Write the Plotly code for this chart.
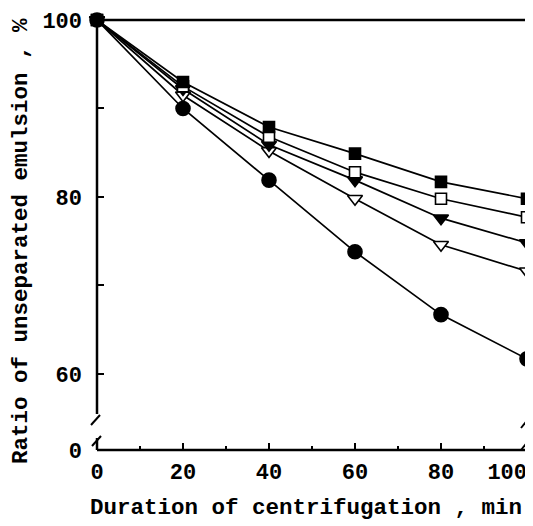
import plotly.graph_objects as go

# ---- data ----
time_min = [0, 20, 40, 60, 80, 100]
filled_square = [100, 93, 87.9, 84.9, 81.7, 79.8]
open_square = [100, 92.5, 86.8, 82.8, 79.8, 77.7]
filled_triangle = [100, 92.2, 85.9, 81.9, 77.6, 74.8]
open_triangle = [100, 91.5, 85.2, 79.8, 74.6, 71.6]
filled_circle = [100, 90, 81.9, 73.8, 66.7, 61.7]

y_tick_vals = [51.4, 60, 70, 80, 90, 100]
y_tick_text = ["0", "60", "", "80", "", "100"]
x_tick_vals = [0, 20, 40, 60, 80, 100]
x_tick_text = ["0", "20", "40", "60", "80", ""]
x_last_val = [100]
x_last_text = ["100"]
x_title = "Duration of centrifugation , min"
y_title = "Ratio of unseparated emulsion , %"

# page geometry (page has an 8px body margin)
OFF = 8
W, H = 533 - OFF, 526 - OFF
L, R, T, B = 97, 527, 20, 450          # plot frame in page pixels
FONT = dict(family="Liberation Mono", size=22, color="black", weight="bold")

fig = go.Figure()

def add(y, symbol, size, fill):
    fig.add_trace(go.Scatter(
        x=time_min, y=y, mode="lines+markers", cliponaxis=False,
        line=dict(color="black", width=1.7),
        marker=dict(symbol=symbol, size=size, color=fill,
                    line=dict(color="black", width=1.6)),
        showlegend=False))

add(filled_circle, "circle", 14, "black")
add(open_triangle, "triangle-down", 13, "white")
add(filled_triangle, "triangle-down", 13, "black")
add(open_square, "square", 11, "white")
add(filled_square, "square", 11, "black")

# invisible helper trace so the overlay axis (last tick label) is drawn
fig.add_trace(go.Scatter(x=time_min, y=filled_square, xaxis="x2",
                         mode="markers", marker=dict(opacity=0),
                         hoverinfo="skip", showlegend=False))

def px(x):
    return (x - L) / (R - L)

def py(y):
    return (B - y) / (B - T)

def seg(x0, y0, x1, y1, w=2.5):
    fig.add_shape(type="line", xref="paper", yref="paper",
                  x0=px(x0), y0=py(y0), x1=px(x1), y1=py(y1),
                  line=dict(color="black", width=w), layer="above")

# frame with axis breaks
seg(L, T, R, T)
seg(L, B, R, B)
seg(L, T, L, 414)
seg(L, 438, L, B)
seg(91, 425, 100, 415, 2)
seg(92, 446, 101, 436, 2)
seg(R, T, R, 418)
seg(R, 440, R, B)
seg(521, 428, 529, 418, 2)
seg(521, 450, 529, 440, 2)

fig.add_annotation(text=x_title, xref="paper", yref="paper",
                   x=px(306), y=py(508), xanchor="center", yanchor="middle",
                   showarrow=False, font=dict(FONT, size=22.5))
fig.add_annotation(text=y_title, xref="paper", yref="paper", textangle=-90,
                   x=px(21), y=py(241), xanchor="center", yanchor="middle",
                   showarrow=False, font=dict(FONT, size=22.5))

fig.update_layout(
    width=W, height=H,
    margin=dict(l=L - OFF, r=W - (R - OFF), t=T - OFF, b=H - (B - OFF),
                autoexpand=False),
    plot_bgcolor="white", paper_bgcolor="white",
    font=FONT,
    xaxis=dict(range=[0, 100], tickvals=x_tick_vals, ticktext=x_tick_text,
               ticks="inside",
               ticklen=7, tickwidth=1.5, tickcolor="black",
               ticklabelstandoff=6, automargin=False,
               minor=dict(ticks="inside", ticklen=4, dtick=10, tick0=0,
                          tickcolor="black", tickwidth=1.5),
               showgrid=False, zeroline=False, showline=False,
               tickfont=FONT),
    xaxis2=dict(range=[0, 100], overlaying="x", side="bottom", anchor="y",
                tickvals=x_last_val, ticktext=x_last_text, ticks="",
                ticklabelposition="outside left", ticklabelstandoff=6,
                automargin=False, showgrid=False, zeroline=False,
                showline=False, tickfont=FONT),
    yaxis=dict(range=[51.4, 100], tickvals=y_tick_vals, ticktext=y_tick_text,
               ticks="inside", ticklen=7, tickwidth=1.5, tickcolor="black",
               ticklabelstandoff=14, automargin=False,
               showgrid=False, zeroline=False, showline=False,
               tickfont=FONT),
)

fig.write_html("out.html")
